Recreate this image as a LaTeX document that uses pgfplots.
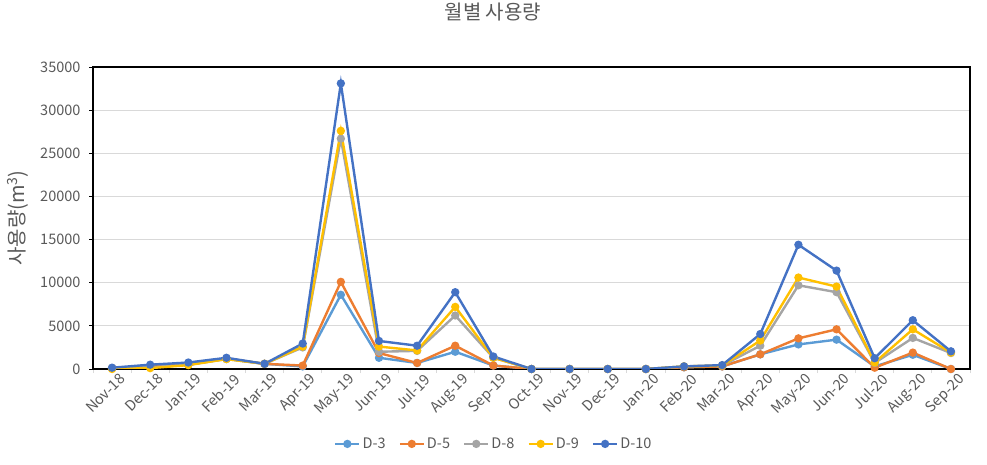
\documentclass[border=0pt]{standalone}
\usepackage{fontspec}
\setmainfont{Noto Sans CJK KR}
\usepackage{pgfplots}
\pgfplotsset{compat=1.18}
\definecolor{cD3}{HTML}{5B9BD5}
\definecolor{cD5}{HTML}{ED7D31}
\definecolor{cD8}{HTML}{A5A5A5}
\definecolor{cD9}{HTML}{FFC000}
\definecolor{cD10}{HTML}{4472C4}
\definecolor{txt}{HTML}{595959}
\definecolor{grd}{HTML}{D9D9D9}
\begin{document}
\begin{tikzpicture}
\path[use as bounding box] (0,0) rectangle (987bp,465bp);
\begin{axis}[
  at={(93bp,96bp)}, anchor=south west,
  scale only axis, width=877bp, height=302bp,
  xmin=-0.5, xmax=22.5, ymin=0, ymax=35000,
  axis line style={black, line width=2bp},
  xtick={0,...,22},
  xticklabels={Nov-18,Dec-18,Jan-19,Feb-19,Mar-19,Apr-19,May-19,Jun-19,Jul-19,Aug-19,Sep-19,Oct-19,Nov-19,Dec-19,Jan-20,Feb-20,Mar-20,Apr-20,May-20,Jun-20,Jul-20,Aug-20,Sep-20},
  minor xtick={-0.5,0.5,...,22.5},
  ytick={0,5000,...,35000},
  scaled y ticks=false,
  major x tick style={draw=none},
  minor x tick style={grd, line width=0.8bp},
  y tick style={black, line width=0.8bp},
  tick align=outside, tick pos=left,
  major tick length=4bp, minor tick length=4bp,
  ymajorgrids, grid style={grd, line width=0.8bp},
  /pgf/number format/assume math mode=true,
  /pgf/number format/1000 sep={},
  yticklabel style={font=\fontsize{14.5bp}{17bp}\selectfont, text=txt, xshift=-5bp},
  xticklabel style={font=\fontsize{14.5bp}{17bp}\selectfont, text=txt, rotate=45, anchor=north east, inner sep=1bp, xshift=6bp, yshift=-3bp},
  title={월별 사용량},
  title style={font=\fontsize{20bp}{24bp}\selectfont, text=txt, at={(axis description cs:0.456,1)}, anchor=center, yshift=49bp},
  ylabel={사용량(m\textsuperscript{3})},
  ylabel style={font=\fontsize{20bp}{24bp}\selectfont, text=txt, at={(axis description cs:-0.0855,0.5)}, anchor=center, rotate=0},
  legend columns=5,
  legend style={draw=none, fill=none, at={(axis description cs:0.457,-0.248)}, anchor=center,
    font=\fontsize{14.5bp}{17bp}\selectfont, text=txt,
    /tikz/every even column/.append style={column sep=11bp}},
  legend image code/.code={
    \draw[#1, mark repeat=2, mark phase=2] plot coordinates {(0bp,0bp) (12bp,0bp) (24bp,0bp)};
  },
  every axis plot/.append style={line width=2.4bp, mark=*, mark size=2.9bp, mark options={solid}},
]
\addplot[color=cD3] coordinates {(0,100)(1,300)(2,500)(3,1200)(4,600)(5,300)(6,8600)(7,1300)(8,700)(9,2000)(10,400)(11,0)(12,0)(13,0)(14,0)(15,200)(16,300)(17,1700)(18,2850)(19,3400)(20,300)(21,1650)(22,0)};
\addlegendentry{D-3}
\addplot[color=cD5] coordinates {(0,100)(1,300)(2,500)(3,1200)(4,600)(5,400)(6,10100)(7,1850)(8,700)(9,2700)(10,400)(11,0)(12,0)(13,0)(14,0)(15,200)(16,300)(17,1700)(18,3550)(19,4600)(20,150)(21,1900)(22,0)};
\addlegendentry{D-5}
\addplot[color=cD8] coordinates {(0,100)(1,200)(2,500)(3,1150)(4,600)(5,2500)(6,26700)(7,2000)(8,2100)(9,6200)(10,1300)(11,0)(12,0)(13,0)(14,0)(15,300)(16,400)(17,2700)(18,9700)(19,8900)(20,700)(21,3600)(22,1850)};
\addlegendentry{D-8}
\addplot[color=cD9] coordinates {(0,0)(1,100)(2,450)(3,1150)(4,600)(5,2600)(6,27600)(7,2600)(8,2150)(9,7200)(10,1300)(11,0)(12,0)(13,0)(14,0)(15,300)(16,400)(17,3300)(18,10600)(19,9550)(20,750)(21,4600)(22,1900)};
\addlegendentry{D-9}
\addplot[color=cD10] coordinates {(0,150)(1,500)(2,750)(3,1300)(4,600)(5,2950)(6,33100)(7,3250)(8,2700)(9,8900)(10,1450)(11,0)(12,0)(13,0)(14,0)(15,300)(16,450)(17,4050)(18,14400)(19,11400)(20,1250)(21,5650)(22,2050)};
\addlegendentry{D-10}
\end{axis}
\end{tikzpicture}
\end{document}
